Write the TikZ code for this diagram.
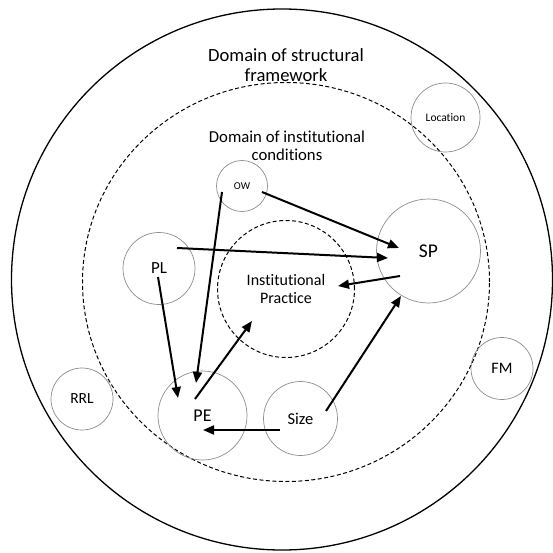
\documentclass[tikz,border=0pt]{standalone}
\usepackage{fontspec}
\setmainfont{Carlito}[Ligatures=NoCommon]
\usetikzlibrary{arrows.meta}
\tikzset{
  var/.style={circle, draw=black!45, line width=0.7pt, inner sep=0pt, text=black},
  dombound/.style={draw=black, line width=1pt, dash pattern=on 4pt off 2.5pt},
  arr/.style={draw=black, line width=2pt, -{Triangle[length=11pt,width=9pt]}},
  titletext/.style={align=center, text=black},
}
\begin{document}
\begin{tikzpicture}[x=1pt,y=-1pt]
\useasboundingbox (0,0) rectangle (553,553);
% outer domain
\draw[line width=1.3pt] (282,279.5) circle (270.5pt);
% middle dashed domain
\draw[dombound] (286,282) ellipse (203.5pt and 199.5pt);
% titles
\node[titletext, font=\fontsize{18.6}{20}\selectfont] (T1) at (286,65) {Domain of structural\\framework};
\node[titletext, font=\fontsize{16.7}{18.5}\selectfont] (T2) at (287,146) {Domain of institutional\\conditions};
% inner dashed domain
\node[dombound, circle, minimum size=137pt, inner sep=0pt, align=center, text=black,
      font=\fontsize{16}{18}\selectfont] (IP) at (286,289) {Institutional\\Practice};
% variables
\node[var, minimum size=69pt, font=\fontsize{11.5}{13}\selectfont] (LOC) at (445.5,117.5) {Location};
\node[var, minimum size=51pt, font=\fontsize{10.5}{12}\selectfont] (OW) at (242,186) {OW};
\node[var, minimum size=104pt, font=\fontsize{19.5}{22}\selectfont] (SP) at (428.5,251) {SP};
\node[var, minimum size=72pt, font=\fontsize{17}{19}\selectfont] (PL) at (159,268.5) {PL};
\node[var, minimum size=89pt, font=\fontsize{18}{20}\selectfont] (PE) at (202.5,415.5) {PE};
\node[var, minimum size=74pt, font=\fontsize{16.5}{19}\selectfont] (SIZE) at (300.5,418.5) {Size};
\node[var, minimum size=62pt, font=\fontsize{15.5}{18}\selectfont] (RRL) at (82,399) {RRL};
\node[var, minimum size=62pt, font=\fontsize{16}{18}\selectfont] (FM) at (502,368.5) {FM};
% arrow end points
\coordinate (owA) at (262,192);
\coordinate (owB) at (222,192);
\coordinate (plA) at (177,248);
\coordinate (plB) at (158,277);
\coordinate (spIn1) at (399,248);
\coordinate (spIn2) at (388,258);
\coordinate (spIn3) at (401,296);
\coordinate (spOut) at (400,276);
\coordinate (ipIn1) at (338,286);
\coordinate (ipIn2) at (252,321);
\coordinate (peIn1) at (196,383);
\coordinate (peIn2) at (178,398);
\coordinate (peIn3) at (203,430);
\coordinate (peOut) at (195,399);
\coordinate (szA) at (326,411);
\coordinate (szB) at (280,430);
% connectors
\draw[arr] (owA) -- (spIn1);
\draw[arr] (owB) -- (peIn1);
\draw[arr] (plA) -- (spIn2);
\draw[arr] (plB) -- (peIn2);
\draw[arr] (spOut) -- (ipIn1);
\draw[arr] (peOut) -- (ipIn2);
\draw[arr] (szA) -- (spIn3);
\draw[arr] (szB) -- (peIn3);
\end{tikzpicture}
\end{document}
